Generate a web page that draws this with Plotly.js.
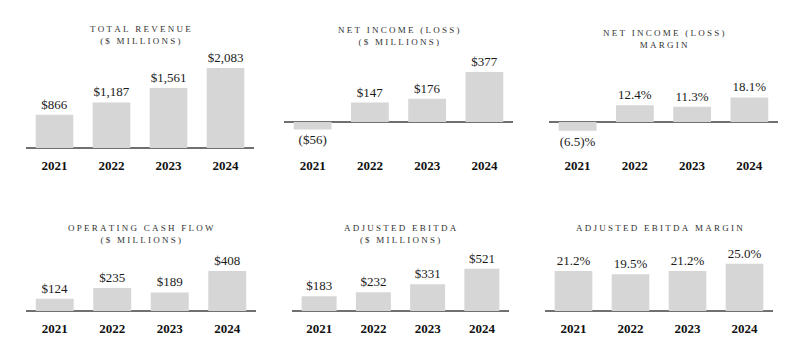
<!DOCTYPE html>
<html>
<head>
<meta charset="utf-8">
<script src="https://cdn.plot.ly/plotly-3.0.1.min.js"></script>
<style>html,body{margin:0;padding:0;background:#fff;}#chart{width:804px;height:351px;}</style>
</head>
<body>
<div id="chart"></div>
<script>
// ---- data ----
var years = ['2021', '2022', '2023', '2024'];
var totalRevenue = [866, 1187, 1561, 2083];
var netIncome = [-56, 147, 176, 377];
var netIncomeMargin = [-6.5, 12.4, 11.3, 18.1];
var operatingCashFlow = [124, 235, 189, 408];
var adjustedEbitda = [183, 232, 331, 521];
var adjustedEbitdaMargin = [21.2, 19.5, 21.2, 25.0];
var panelTitles = [
  ['TOTAL REVENUE', '($ MILLIONS)'],
  ['NET INCOME (LOSS)', '($ MILLIONS)'],
  ['NET INCOME (LOSS)', 'MARGIN'],
  ['OPERATING CASH FLOW', '($ MILLIONS)'],
  ['ADJUSTED EBITDA', '($ MILLIONS)'],
  ['ADJUSTED EBITDA MARGIN']
];

// ---- formatting ----
function money(v) {
  var s = '$' + Math.abs(v).toLocaleString('en-US');
  return v < 0 ? '(' + s + ')' : s;
}
function pct(v) {
  var s = Math.abs(v).toFixed(1);
  return v < 0 ? '(' + s + ')%' : s + '%';
}
function spaced(s) {
  return s.split('').map(function (c) { return c === ' ' ? '\u00a0' : c; }).join('\u00a0');
}

// ---- layout geometry (pixels) ----
var W = 804, H = 351;
var panels = [
  {vals: totalRevenue, fmt: money, x0: 26, x1: 254, top: 55, base: 148, axis: 156, scale: 0.0384, bw: 0.66, ty: 35},
  {vals: netIncome, fmt: money, x0: 284, x1: 513, top: 55, base: 122, axis: 156, scale: 0.1326, bw: 0.66, ty: 36},
  {vals: netIncomeMargin, fmt: pct, x0: 549, x1: 778, top: 55, base: 122, axis: 156, scale: 1.36, bw: 0.66, ty: 38.5},
  {vals: operatingCashFlow, fmt: money, x0: 26, x1: 256, top: 250, base: 311, axis: 319, scale: 0.098, bw: 0.66, ty: 234},
  {vals: adjustedEbitda, fmt: money, x0: 292, x1: 509, top: 250, base: 311, axis: 319, scale: 0.081, bw: 0.645, ty: 234},
  {vals: adjustedEbitdaMargin, fmt: pct, x0: 545, x1: 773, top: 250, base: 311, axis: 319, scale: 1.89, bw: 0.66, ty: 228}
];

var SERIF = 'Liberation Serif, Times New Roman, serif';
var data = [];
var layout = {
  width: W, height: H,
  margin: {l: 0, r: 0, t: 0, b: 0},
  paper_bgcolor: '#ffffff',
  plot_bgcolor: 'rgba(0,0,0,0)',
  showlegend: false,
  annotations: []
};

panels.forEach(function (p, i) {
  var n = i + 1;
  var xa = 'x' + (n === 1 ? '' : n), ya = 'y' + (n === 1 ? '' : n);
  var xk = 'xaxis' + (n === 1 ? '' : n), yk = 'yaxis' + (n === 1 ? '' : n);
  data.push({
    type: 'bar',
    x: years,
    y: p.vals,
    xaxis: xa, yaxis: ya,
    width: p.bw,
    marker: {color: '#d6d6d6', line: {width: 0}},
    text: p.vals.map(p.fmt),
    textposition: 'outside',
    constraintext: 'none',
    cliponaxis: false,
    textfont: {family: SERIF, size: 13, color: '#1a1a1a'},
    hoverinfo: 'none'
  });
  layout[xk] = {
    domain: [p.x0 / W, p.x1 / W],
    anchor: ya,
    type: 'category',
    range: [-0.5, 3.5],
    showgrid: false, zeroline: false, showline: false,
    ticks: '',
    tickfont: {family: SERIF, size: 13, color: '#111111', weight: 'bold'},
    fixedrange: true
  };
  layout[yk] = {
    domain: [1 - p.axis / H, 1 - p.top / H],
    anchor: xa,
    range: [-(p.axis - p.base) / p.scale, (p.base - p.top) / p.scale],
    showgrid: false,
    showticklabels: false,
    ticks: '',
    showline: false,
    zeroline: true,
    zerolinecolor: '#707070',
    zerolinewidth: 1.5,
    fixedrange: true
  };
  layout.annotations.push({
    xref: 'paper', yref: 'paper',
    x: (p.x0 + p.x1) / 2 / W,
    y: 1 - p.ty / H,
    xanchor: 'center', yanchor: 'middle',
    showarrow: false,
    align: 'center',
    text: panelTitles[i].map(spaced).join('<br>'),
    font: {family: SERIF, size: 9, color: '#333333'}
  });
});

Plotly.newPlot('chart', data, layout, {staticPlot: true, displayModeBar: false});
</script>
</body>
</html>
